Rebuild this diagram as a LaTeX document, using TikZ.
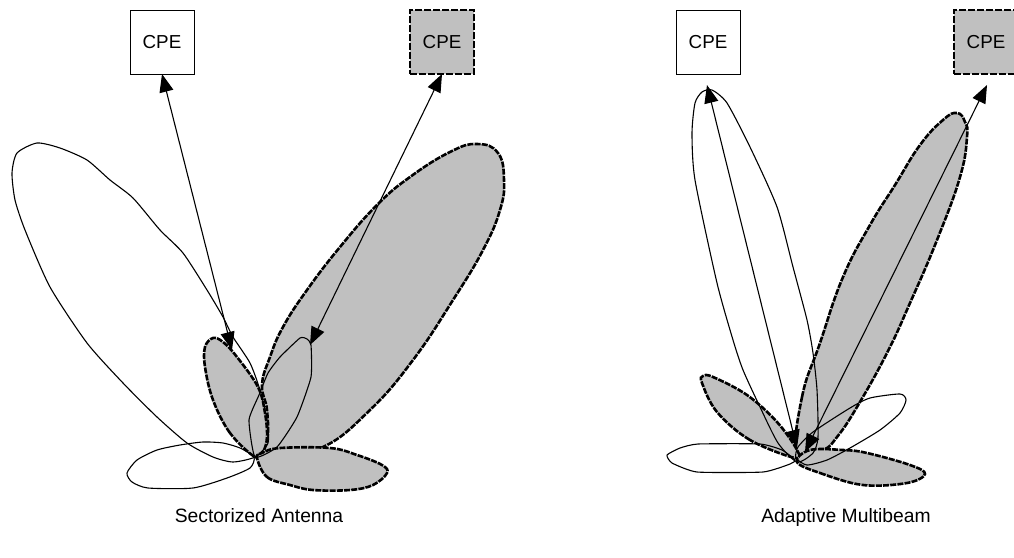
\documentclass[tikz,border=0pt]{standalone}
\usepackage{fontspec}
\usepackage{xcolor}
\usetikzlibrary{arrows.meta,positioning}
\setmainfont{Liberation Sans}
\definecolor{lobegrey}{RGB}{192,192,192}

\begin{document}
\begin{tikzpicture}[x=1pt,y=-1pt,
        cpe/.style={rectangle,draw=black,line width=1pt,minimum size=64pt,inner sep=0pt,outer sep=0pt,font=\fontsize{18.8}{20}\selectfont},
        cpegrey/.style={cpe,fill=lobegrey,line width=2.6pt,dash pattern=on 7pt off 2pt},
        lobe/.style={draw=black,line width=1.1pt,line join=round},
        lobegreyed/.style={fill=lobegrey,draw=black,line width=2.6pt,dash pattern=on 6pt off 1.2pt},
        arrow/.style={{Triangle[length=18pt,width=14pt]}-{Triangle[length=18pt,width=14pt]},line width=1.1pt},
        caption/.style={font=\fontsize{19.3}{22}\selectfont,text height=14pt,text depth=4pt}]
        \useasboundingbox (0,0) rectangle (1014,557);
        % sectorized side
        \path[lobegreyed] plot[smooth cycle,tension=0.75] coordinates {(258,456) (267,440) (267,410) (262,385) (270,357) (283,327) (307,290) (340,247) (377,205) (410,177) (450,152) (477,144) (498,153) (504,180) (500,210) (483,250) (453,300) (413,360) (370,410) (323,447) (280,452)};
        \path[lobegreyed] plot[smooth cycle,tension=0.6] coordinates {(255,457) (230,433) (213,400) (205,367) (205,347) (213,338) (223,342) (237,357) (258,387) (265,413) (267,437) (263,452)};
        \path[lobegreyed] plot[smooth cycle,tension=0.6] coordinates {(257,458) (267,477) (290,485) (313,490) (350,490) (373,485) (387,473) (382,465) (357,455) (330,448) (280,448) (262,453)};
        \draw[lobe] plot[smooth cycle,tension=0.4] coordinates {(255,457) (233,462) (213,457) (187,443) (157,417) (123,383) (87,343) (50,287) (25,230) (15,200) (12,173) (17,153) (37,143) (60,148) (87,160) (110,180) (133,198) (160,230) (183,253) (207,290) (223,317) (233,337) (250,363) (260,390) (267,420) (268,443)};
        \draw[lobe] plot[smooth cycle,tension=0.4] coordinates {(254,457) (240,448) (223,443) (203,442) (180,445) (157,450) (137,460) (127,473) (132,482) (148,488) (193,488) (227,478) (250,468)};
        \draw[lobe] plot[smooth cycle,tension=0.3] coordinates {(255,457) (249,420) (259,395) (268,373) (280,357) (300,338) (307,339) (311,345) (311,377) (297,417) (277,447)};
        % multibeam side
        \path[lobegreyed] plot[smooth cycle,tension=0.75] coordinates {(797,456) (802,397) (820,343) (843,277) (870,225) (895,185) (920,145) (943,120) (957,113) (965,122) (967,137) (960,177) (937,240) (910,303) (887,353) (857,407) (837,437) (823,450)};
        \path[lobegreyed] plot[smooth cycle,tension=0.6] coordinates {(795,458) (750,440) (717,412) (702,383) (703,376) (713,377) (747,395) (777,422) (797,450)};
        \path[lobegreyed] plot[smooth cycle,tension=0.6] coordinates {(797,462) (820,473) (863,485) (907,483) (925,474) (910,465) (867,453) (843,450) (810,450)};
        \draw[lobe] plot[smooth cycle,tension=0.4] coordinates {(797,462) (778,443) (760,407) (743,370) (733,340) (717,283) (695,180) (692,133) (695,103) (702,92) (712,90) (727,103) (750,147) (777,207) (793,267) (807,320) (813,353) (817,390) (818,437) (813,453)};
        \draw[lobe] plot[smooth cycle,tension=0.3] coordinates {(795,460) (782,450) (760,444) (698,444) (680,448) (667,455) (672,463) (697,472) (763,472) (790,464)};
        \draw[lobe] plot[smooth cycle,tension=0.4] coordinates {(796,458) (798,447) (813,432) (850,408) (870,398) (900,394) (906,400) (900,413) (880,430) (850,448) (827,460) (807,465)};
        % stations
        \node[cpe,fill=white] (cpeleft) at (162,42) {CPE};
        \node[cpegrey,right=216pt of cpeleft] (cpegreyleft) {CPE};
        \node[cpe,fill=white] (cperight) at (708,42) {CPE};
        \node[cpegrey,right=214pt of cperight] (cpegreyright) {CPE};
        \coordinate (tipa) at (232,350);
        \coordinate (tipb) at (310,345);
        \coordinate (tipc) at (797,448);
        \coordinate (tipd) at (805,452);
        \coordinate (tope) at (707,85);
        \coordinate (topf) at (987,85);
        \draw[arrow] (cpeleft.south) -- (tipa);
        \draw[arrow] (cpegreyleft.south) -- (tipb);
        \draw[arrow] (tope) -- (tipc);
        \draw[arrow] (topf) -- (tipd);
        \node[caption] (labelleft) at (259,517) {Sectorized Antenna};
        \node[caption] (labelright) at (846,517) {Adaptive Multibeam};
      \end{tikzpicture}
\end{document}
